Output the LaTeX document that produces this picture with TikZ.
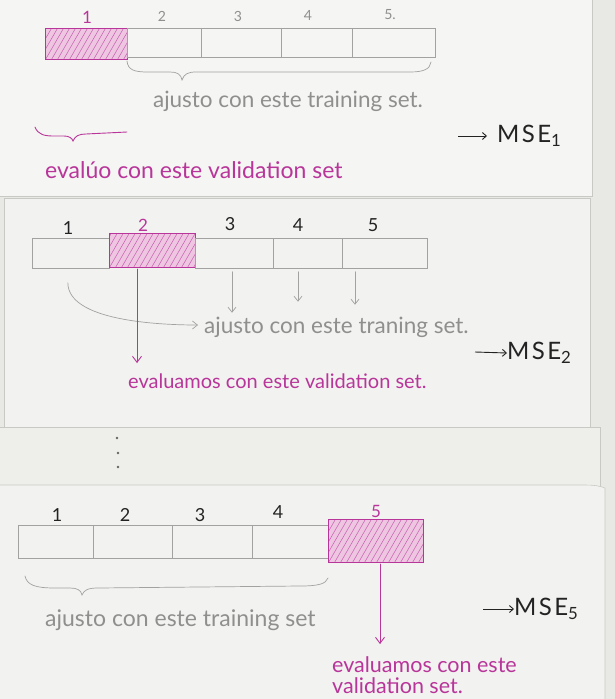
\documentclass[tikz,border=0pt]{standalone}
\usepackage{fontspec}
\setmainfont{Lato}
\usetikzlibrary{calc,arrows.meta}

\definecolor{desk}{HTML}{E8E8E5}
\definecolor{paperA}{HTML}{F5F5F3}
\definecolor{paperB}{HTML}{F2F2F0}
\definecolor{paperC}{HTML}{EEEEEB}
\definecolor{edge}{HTML}{C8C8C5}
\definecolor{pencil}{HTML}{A2A2A0}
\definecolor{pencilText}{HTML}{8F8F8D}
\definecolor{ink}{HTML}{232323}
\definecolor{mag}{HTML}{B8359A}
\definecolor{magfill}{HTML}{EEC6E2}

\tikzset{
  cell/.style={draw=pencil, line width=0.7pt, minimum height=30pt,
    inner sep=0pt, anchor=north west},
  valcell/.style={draw=mag, line width=1pt, fill=magfill, inner sep=0pt,
    anchor=north west,
    path picture={
      \foreach \i in {-8,...,18}
        \draw[mag!80, line width=0.5pt]
          ([xshift=\i*6pt]path picture bounding box.south west) -- ++(60:70pt);
    }},
  graylabel/.style={text=pencilText, font=\fontsize{14}{16}\selectfont},
  inklabel/.style={text=ink, font=\fontsize{18}{20}\selectfont},
  maglabel/.style={text=mag, font=\fontsize{17}{19}\selectfont},
  graytext/.style={text=pencilText, font=\fontsize{#1}{#1}\selectfont, inner sep=1pt},
  graytext/.default=22,
  magtext/.style={text=mag, font=\fontsize{#1}{#1}\selectfont, inner sep=1pt},
  magtext/.default=22,
  msetext/.style={text=ink, font=\fontsize{24}{26}\selectfont\addfontfeatures{LetterSpace=10},
    inner sep=0pt, anchor=west},
  pencilline/.style={draw=pencil, line width=0.7pt, line cap=round},
  pencilarrow/.style={pencilline, -{Straight Barb[length=5pt,width=8pt]}},
  magline/.style={draw=mag, line width=0.9pt, line cap=round},
  magarrow/.style={magline, -{Straight Barb[length=6pt,width=9pt]}},
  inkarrow/.style={draw=ink, line width=0.9pt, -{Straight Barb[length=4pt,width=7pt]}},
}

\begin{document}
\begin{tikzpicture}[x=1pt, y=-1pt]
  % desk and stacked sheets
  \fill[desk] (0,0) rectangle (615,699);
  \useasboundingbox (0,0) rectangle (615,699);
  \filldraw[fill=paperA, draw=edge, line width=0.6pt] (-2,-2) rectangle (592,196);
  \filldraw[fill=paperC, draw=edge, line width=0.6pt] (-2,427) rectangle (600,486);
  \filldraw[fill=paperB, draw=edge, line width=0.6pt] (4,198) rectangle (590,427);
  \filldraw[fill=paperB, draw=edge, line width=0.6pt] (-2,485) -- (583,485)
    .. controls (595,485) and (600,486) .. (605,488) -- (605,701) -- (-2,701) -- cycle;

  % ---------- fold 1 ----------
  \node[valcell, minimum width=82pt, minimum height=31pt] (a1) at (45,28) {};
  \node[cell, minimum width=74pt, minimum height=29pt] (a2) at (127,28) {};
  \node[cell, minimum width=80pt, minimum height=29pt] (a3) at (201,28) {};
  \node[cell, minimum width=71pt, minimum height=29pt] (a4) at (281,28) {};
  \node[cell, minimum width=83pt, minimum height=29pt] (a5) at (352,28) {};

  \node[maglabel] (la1) at (87,17) {1};
  \node[graylabel] (la2) at (162,16) {2};
  \node[graylabel] (la3) at (238,16) {3};
  \node[graylabel] (la4) at (308,15) {4};
  \node[graylabel] (la5) at (390,15) {5.};

  \draw[pencilline] (127,61) .. controls (128,70) and (134,72) .. (148,72)
    -- (170,72) .. controls (177,72) and (181,74) .. (182,80)
    .. controls (184,74) and (188,72) .. (196,72) -- (410,72)
    .. controls (424,72) and (430,69) .. (431,62);
  \node[graytext=22.5] (t1) at (288,101) {ajusto con este training set.};

  \draw[magline] (35,127) .. controls (38,135) and (45,136) .. (54,136)
    -- (64,136) .. controls (69,136) and (72,138) .. (73,141)
    .. controls (75,136) and (79,134) .. (86,134) -- (127,132);
  \node[magtext=23, anchor=west] (v1) at (44,170) {evalúo con este validation set};

  \coordinate (m1s) at (458,136);
  \node[msetext] (m1) at (497,136) {MSE\textsubscript{1}};
  \draw[inkarrow, shorten >=10pt] (m1s) -- (m1.west);

  % ---------- fold 2 ----------
  \node[cell, minimum width=77pt] (b1) at (32,238) {};
  \node[valcell, minimum width=86pt, minimum height=34pt] (b2) at (109,233) {};
  \node[cell, minimum width=78pt] (b3) at (195,238) {};
  \node[cell, minimum width=69pt] (b4) at (273,238) {};
  \node[cell, minimum width=85pt] (b5) at (342,238) {};

  \node[inklabel] (lb1) at (68,228) {1};
  \node[maglabel] (lb2) at (143,225) {2};
  \node[inklabel] (lb3) at (230,224) {3};
  \node[inklabel] (lb4) at (298,225) {4};
  \node[inklabel] (lb5) at (373,225) {5};

  \node[graytext=22.5, anchor=west] (t2) at (203,327) {ajusto con este traning set.};
  \node[magtext=20, anchor=west] (v2) at (127,381) {evaluamos con este validation set.};

  \draw[pencilarrow] ($(b1.south)+(-3,14)$) .. controls +(0,38) and +(-40,0)
    .. ([xshift=-5pt,yshift=2pt]t2.west);
  \draw[pencilarrow] ($(b3.south west)+(37,3)$) -- ++(0,41);
  \draw[pencilarrow] ($(b4.south west)+(25,3)$) -- ++(0,30);
  \draw[pencilarrow] ($(b5.south west)+(13,3)$) -- ++(0,33);
  \draw[magarrow] ($(b2.south west)+(28,1)$) -- ($(b2.south west)+(28,95)$);

  \coordinate (m2s) at (475,352);
  \node[msetext] (m2) at (507,353) {MSE\textsubscript{2}};
  \draw[inkarrow] (m2s) -- (m2.west);

  % ellipsis between folds
  \fill[ink!70] (117,438) circle (1.3pt) (118,453) circle (1.3pt) (118,467) circle (1.3pt);

  % ---------- fold 5 ----------
  \node[cell, minimum width=75pt, minimum height=33pt] (c1) at (18,525) {};
  \node[cell, minimum width=79pt, minimum height=33pt] (c2) at (93,525) {};
  \node[cell, minimum width=80pt, minimum height=33pt] (c3) at (172,525) {};
  \node[cell, minimum width=76pt, minimum height=33pt] (c4) at (252,525) {};
  \node[valcell, minimum width=95pt, minimum height=43pt] (c5) at (328,519) {};

  \node[inklabel] (lc1) at (57,515) {1};
  \node[inklabel] (lc2) at (125,515) {2};
  \node[inklabel] (lc3) at (200,515) {3};
  \node[inklabel] (lc4) at (278,512) {4};
  \node[maglabel] (lc5) at (376,511) {5};

  \draw[pencilline] (25,576) .. controls (27,585) and (35,588) .. (55,588)
    -- (70,588) .. controls (77,588) and (81,590) .. (82,595)
    .. controls (84,590) and (88,588) .. (98,588) -- (300,586)
    .. controls (318,586) and (326,584) .. (328,578);
  \node[graytext=23, anchor=west] (t3) at (44,620) {ajusto con este training set};

  \node[magtext=21.5, anchor=north west, align=left] (v3) at (331,655)
    {evaluamos con este\\validation set.};
  \draw[magarrow] ($(c5.south)+(4,1)$) -- ($(c5.south)+(4,81)$);

  \coordinate (m5s) at (483,609);
  \node[msetext] (m5) at (514,609) {MSE\textsubscript{5}};
  \draw[inkarrow] (m5s) -- (m5.west);
\end{tikzpicture}
\end{document}
